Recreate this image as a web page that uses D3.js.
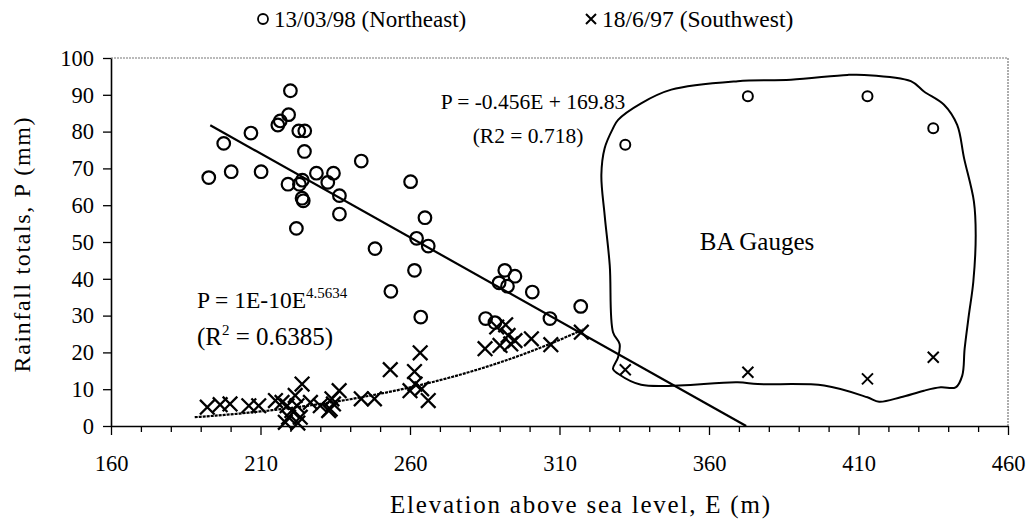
<!DOCTYPE html>
<html>
<head>
<meta charset="utf-8">
<script src="https://cdn.jsdelivr.net/npm/d3@7/dist/d3.min.js"></script>
<style>
  html, body { margin: 0; padding: 0; background: #fff; }
  svg { display: block; }
  text { font-family: "Liberation Serif", "Times New Roman", serif; fill: #000; }
</style>
</head>
<body>
<svg id="chart" width="1035" height="524"></svg>
<script>
// Rainfall totals against gauge elevation for two storm events.

// 13/03/98 (Northeast) storm: elevation E (m) and rainfall P (mm)
const neElevation = [220.0, 219.4, 216.6, 215.8, 222.8, 224.8, 206.8, 197.7, 224.7, 243.7,
  192.7, 200.2, 210.2, 228.7, 234.4, 232.5, 219.2, 223.0, 224.0, 223.9,
  224.3, 236.4, 236.4, 222.0, 248.3, 260.2, 265.0, 262.2, 266.1, 261.5,
  253.6, 263.6, 291.7, 295.1, 289.8, 292.6, 300.9, 317.1, 306.8, 285.3, 288.4];
const neRainfall = [91.1, 84.6, 82.9, 81.8, 80.2, 80.2, 79.6, 76.8, 74.6, 72.0,
  67.5, 69.1, 69.1, 68.7, 68.7, 66.2, 65.7, 65.7, 66.8, 61.9,
  61.2, 62.6, 57.6, 53.7, 48.2, 66.4, 56.6, 51.0, 48.9, 42.3,
  36.6, 29.6, 42.3, 40.7, 38.9, 38.0, 36.4, 32.5, 29.2, 29.2, 28.1];

// 18/6/97 (Southwest) storm
const swElevation = [192.2, 196.5, 199.8, 206.1, 209.4, 215.0, 217.2, 218.9, 220.5, 219.4,
  223.3, 221.6, 223.9, 222.2, 226.7, 218.3, 222.5, 230.0, 233.3, 233.9,
  232.8, 234.4, 236.3, 243.7, 248.1, 253.4, 260.0, 261.5, 261.7, 263.4,
  263.9, 266.1, 285.1, 289.0, 290.1, 292.0, 292.8, 293.7, 295.1, 300.6, 307.1, 317.3];
const swRainfall = [5.1, 5.8, 6.0, 5.5, 5.5, 6.9, 6.4, 5.5, 4.2, 2.4,
  2.4, 8.3, 11.4, 5.5, 6.4, 1.0, 0.8, 5.5, 4.6, 7.4,
  4.2, 6.0, 9.6, 7.4, 7.4, 15.3, 9.6, 14.8, 11.4, 19.9,
  10.1, 6.9, 21.0, 26.9, 21.9, 27.5, 24.6, 22.3, 23.2, 23.7, 22.1, 25.5];

// BA gauges (both storms)
const baElevation = [332, 373, 413, 435];
const baRainfallNE = [76.4, 89.6, 89.6, 80.9];
const baRainfallSW = [15.3, 14.6, 12.8, 18.7];

// Outline drawn round the BA gauges, in (E, P) units
const baOutlineE = [327.9, 329.6, 337.3, 347.4, 369.6, 387.4, 406.3, 411.9, 427.5, 431.9,
  438.6, 443.0, 445.3, 448.6, 449.2, 448.4, 446.9, 445.5, 444.7, 442.5,
  437.5, 431.9, 424.1, 416.9, 413.0, 398.5, 376.3, 369.6, 337.3, 329.6,
  327.9, 329.6, 330.1, 327.9, 326.8, 325.1, 324.0, 325.1];
const baOutlineP = [80.9, 83.2, 87.7, 91.4, 93.7, 94.1, 95.4, 95.4, 93.7, 90.9,
  87.3, 81.8, 72.8, 61.0, 51.9, 39.2, 30.1, 21.0, 13.7, 10.5,
  10.5, 9.6, 7.8, 6.6, 7.8, 11.0, 11.4, 11.9, 11.2, 14.2,
  15.5, 18.7, 22.3, 25.5, 43.7, 57.3, 68.2, 75.5];

// Fitted trends
const linSlope = -0.456, linIntercept = 169.83;         // P = -0.456E + 169.83
const powCoef = 1e-10, powExp = 4.5634;                 // P = 1E-10 E^4.5634
const linStartE = 193.2;
const powStartE = 188, powEndE = 318;

// Axis ticks
const xTicks = d3.range(160, 461, 10);
const xLabels = [160, 210, 260, 310, 360, 410, 460];
const yTicks = d3.range(0, 101, 10);

const svg = d3.select("#chart");

const x = d3.scaleLinear().domain([160, 460]).range([111, 1008]);
const y = d3.scaleLinear().domain([0, 100]).range([426, 58]);

// plot frame (top and right edges)
svg.append("path")
  .attr("d", `M${x(160)},${y(100)}H${x(460)}V${y(0)}`)
  .attr("fill", "none").attr("stroke", "#777").attr("stroke-width", 1.2)
  .attr("stroke-dasharray", "2,1");

// x axis
const xAxis = svg.append("g").attr("transform", `translate(0,${y(0)})`)
  .call(d3.axisBottom(x).tickValues(xTicks).tickSize(6).tickSizeOuter(0)
    .tickFormat(d => xLabels.includes(d) ? d : ""));
xAxis.select(".domain").attr("stroke-width", 1.6);
xAxis.selectAll(".tick line").attr("stroke-width", 1.3)
  .attr("y2", d => xLabels.includes(d) ? 9 : 6);
xAxis.selectAll(".tick text").attr("y", 29).attr("font-size", 22.5)
  .attr("font-family", "Liberation Serif");

// y axis
const yAxis = svg.append("g").attr("transform", `translate(${x(160)},0)`)
  .call(d3.axisLeft(y).tickValues(yTicks).tickSize(8).tickSizeOuter(0));
yAxis.select(".domain").attr("stroke-width", 1.6);
yAxis.selectAll(".tick line").attr("stroke-width", 1.3);
yAxis.selectAll(".tick text").attr("x", -17).attr("font-size", 22.5)
  .attr("font-family", "Liberation Serif");

// axis titles
svg.append("text").attr("x", 580).attr("y", 513)
  .attr("text-anchor", "middle").attr("font-size", 25)
  .attr("textLength", 380).attr("lengthAdjust", "spacing")
  .text("Elevation above sea level, E (m)");
svg.append("text")
  .attr("transform", `translate(30,${(y(0) + y(100)) / 2 + 3}) rotate(-90)`)
  .attr("text-anchor", "middle").attr("font-size", 24)
  .attr("textLength", 255).attr("lengthAdjust", "spacing")
  .text("Rainfall totals, P (mm)");

// BA gauges outline
const outline = baOutlineE.map((e, i) => [e, baOutlineP[i]]);
svg.append("path")
  .attr("d", d3.line().x(d => x(d[0])).y(d => y(d[1])).curve(d3.curveCatmullRomClosed.alpha(0.5))(outline))
  .attr("fill", "none").attr("stroke", "#000").attr("stroke-width", 2);

// linear trend
const linEndE = -linIntercept / linSlope;
svg.append("line")
  .attr("x1", x(linStartE)).attr("y1", y(linSlope * linStartE + linIntercept))
  .attr("x2", x(linEndE)).attr("y2", y(0))
  .attr("stroke", "#000").attr("stroke-width", 2.2);

// power trend
const powE = d3.range(powStartE, powEndE + 0.01, 1);
svg.append("path")
  .attr("d", d3.line().x(e => x(e)).y(e => y(powCoef * Math.pow(e, powExp)))(powE))
  .attr("fill", "none").attr("stroke", "#000").attr("stroke-width", 2.2)
  .attr("stroke-dasharray", "3,1");

// markers
function circles(es, ps, r, sw) {
  svg.append("g").selectAll("circle").data(es).join("circle")
    .attr("cx", e => x(e)).attr("cy", (e, i) => y(ps[i])).attr("r", r)
    .attr("fill", "none").attr("stroke", "#000").attr("stroke-width", sw);
}
function crosses(es, ps, h, sw) {
  svg.append("g").selectAll("path").data(es).join("path")
    .attr("d", (e, i) => {
      const cx = x(e), cy = y(ps[i]);
      return `M${cx - h},${cy - h}L${cx + h},${cy + h}M${cx - h},${cy + h}L${cx + h},${cy - h}`;
    })
    .attr("fill", "none").attr("stroke", "#000").attr("stroke-width", sw);
}
circles(neElevation, neRainfall, 6.3, 2.2);
crosses(swElevation, swRainfall, 7.3, 2.3);
circles(baElevation, baRainfallNE, 5, 2);
crosses(baElevation, baRainfallSW, 5.5, 2);

// equation labels
svg.append("text").attr("x", 533).attr("y", 109).attr("text-anchor", "middle")
  .attr("font-size", 21.5).text("P = -0.456E + 169.83");
svg.append("text").attr("x", 528).attr("y", 143).attr("text-anchor", "middle")
  .attr("font-size", 21.5).text("(R2 = 0.718)");

const eq2 = svg.append("text").attr("x", 197).attr("y", 308).attr("font-size", 23.5);
eq2.append("tspan").text("P = 1E-10E");
eq2.append("tspan").attr("dy", -10).attr("font-size", 15).text("4.5634");
const r2 = svg.append("text").attr("x", 197).attr("y", 345).attr("font-size", 25);
r2.append("tspan").text("(R");
r2.append("tspan").attr("dy", -10).attr("font-size", 15).text("2");
r2.append("tspan").attr("dy", 10).text(" = 0.6385)");

svg.append("text").attr("x", 757).attr("y", 250).attr("text-anchor", "middle")
  .attr("font-size", 25).text("BA Gauges");

// legend
const leg = svg.append("g");
leg.append("circle").attr("cx", 263).attr("cy", 19).attr("r", 5)
  .attr("fill", "none").attr("stroke", "#000").attr("stroke-width", 1.8);
leg.append("text").attr("x", 274).attr("y", 27).attr("font-size", 23)
  .text("13/03/98 (Northeast)");
leg.append("path").attr("d", "M586,14L596,24M586,24L596,14")
  .attr("stroke", "#000").attr("stroke-width", 2);
leg.append("text").attr("x", 602).attr("y", 27).attr("font-size", 23.5)
  .text("18/6/97 (Southwest)");
</script>
</body>
</html>
